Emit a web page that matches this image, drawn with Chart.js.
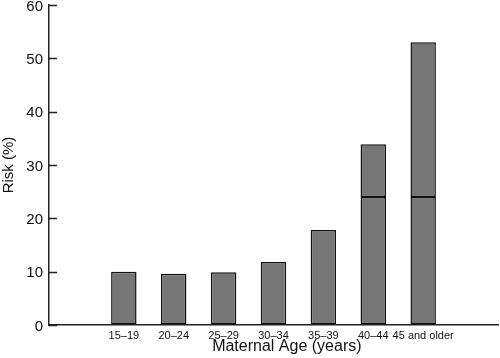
<!DOCTYPE html>
<html>
<head>
<meta charset="utf-8">
<title>Risk by Maternal Age</title>
<script src="https://cdn.jsdelivr.net/npm/chart.js@4/dist/chart.umd.min.js"></script>
<style>
    html, body { margin: 0; padding: 0; background: #fff; }
    #chart-wrap { position: relative; width: 500px; height: 358px; }
</style>
</head>
<body>
<div id="chart-wrap"><canvas id="risk-chart"></canvas></div>
<script>
// Chart data
var ageGroups = ['', '15\u201319', '20\u201324', '25\u201329', '30\u201334', '35\u201339', '40\u201344', '45 and older', ''];
var riskBase = [null, 10, 9.6, 9.9, 11.8, 17.8, 24, 24, null];
var riskUpper = [null, null, null, null, null, null, 9.9, 29, null];
var riskTicks = [0, 10, 20, 30, 40, 50, 60];

(function() {
    'use strict';

    var FONT = "'Liberation Sans', Arial, Helvetica, sans-serif";
    var BAR_FILL = '#767676';
    var INK = '#111';

    /**
     * Build one bar segment dataset
     */
    function segment(label, values) {
        return {
            label: label,
            data: values,
            backgroundColor: BAR_FILL,
            borderColor: '#111',
            borderWidth: 1.5,
            borderSkipped: false,
            barPercentage: 0.51,
            categoryPercentage: 1.0,
            stack: 'risk'
        };
    }

    /**
     * Tick marks on the inside of the y axis
     */
    var inwardTicks = {
        id: 'inwardTicks',
        afterDatasetsDraw: function(chart) {
            var y = chart.scales.y;
            var c = chart.ctx;
            var x0 = chart.chartArea.left;
            c.save();
            c.strokeStyle = '#222';
            c.lineWidth = 1.5;
            c.beginPath();
            y.ticks.forEach(function(t) {
                var py = Math.round(y.getPixelForValue(t.value)) + 0.5;
                c.moveTo(x0, py);
                c.lineTo(x0 + 8, py);
            });
            c.stroke();
            c.restore();
        }
    };

    var ctx = document.getElementById('risk-chart').getContext('2d');

    window.riskChart = new Chart(ctx, {
        type: 'bar',
        data: {
            labels: ageGroups,
            datasets: [
                segment('Risk', riskBase),
                segment('Risk (upper)', riskUpper)
            ]
        },
        plugins: [inwardTicks],
        options: {
            responsive: true,
            maintainAspectRatio: false,
            animation: false,
            layout: { padding: { top: 5, right: 2, left: 0, bottom: 0 } },
            plugins: {
                legend: { display: false },
                tooltip: { enabled: false }
            },
            scales: {
                x: {
                    stacked: true,
                    offset: true,
                    grid: { display: false, drawTicks: false },
                    border: { display: true, color: '#222', width: 1.5 },
                    ticks: {
                        color: INK,
                        padding: 4,
                        maxRotation: 0,
                        autoSkip: false,
                        font: { family: FONT, size: 11 }
                    },
                    title: {
                        display: true,
                        // leading spaces nudge the title right, as in the original
                        text: '      Maternal Age (years)',
                        color: INK,
                        font: { family: FONT, size: 16 },
                        padding: { top: 0, bottom: 2 }
                    },
                    afterFit: function(scale) {
                        scale.height = 33;
                        scale.paddingLeft = 0;
                        scale.paddingRight = 0;
                    }
                },
                y: {
                    stacked: true,
                    min: 0,
                    max: 60,
                    afterBuildTicks: function(scale) {
                        scale.ticks = riskTicks.map(function(v) { return { value: v }; });
                    },
                    grid: { drawOnChartArea: false, drawTicks: false },
                    border: { display: true, color: '#222', width: 1.5 },
                    ticks: {
                        color: INK,
                        padding: 6,
                        labelOffset: 1.5,
                        font: { family: FONT, size: 15 }
                    },
                    title: {
                        display: true,
                        text: 'Risk (%)',
                        color: INK,
                        font: { family: FONT, size: 15 },
                        padding: { top: 0, bottom: 0 }
                    },
                    afterFit: function(scale) {
                        scale.width = 49;
                        scale.paddingTop = 0;
                        scale.paddingBottom = 0;
                    }
                }
            }
        }
    });
})();
</script>
</body>
</html>
